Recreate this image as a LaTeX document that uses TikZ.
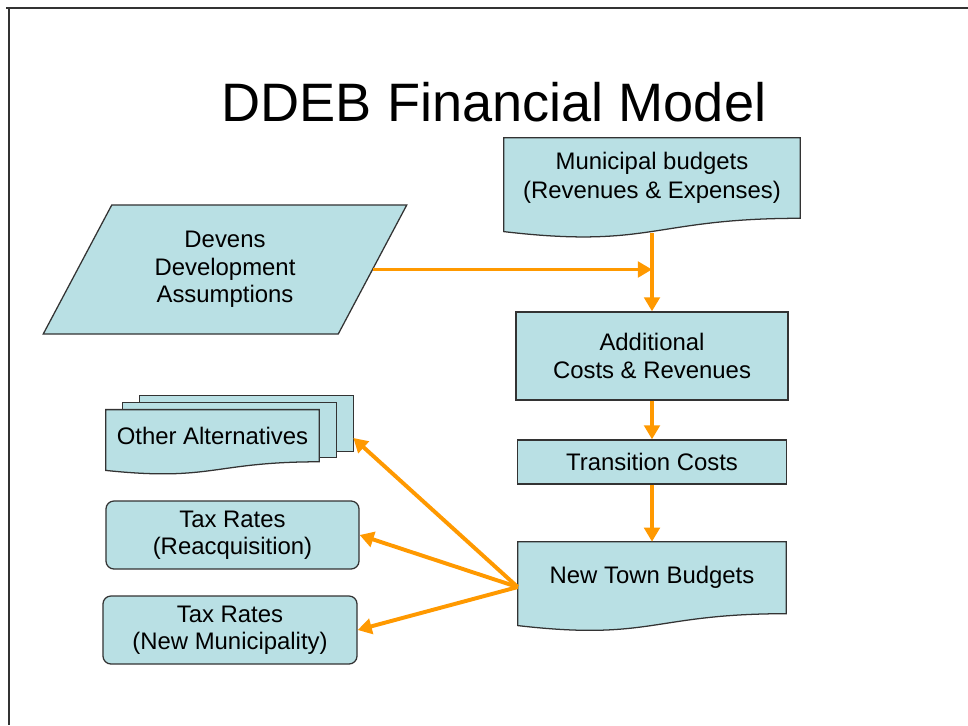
\documentclass[tikz,border=0pt]{standalone}
\usepackage{fontspec}
\setmainfont{Liberation Sans}
\usetikzlibrary{shapes}
\usetikzlibrary{positioning}
\usetikzlibrary{calc}
\usetikzlibrary{arrows.meta}
\usetikzlibrary{backgrounds}

\definecolor{boxfill}{RGB}{185,224,228}
\definecolor{flowline}{RGB}{255,153,0}
\definecolor{edgegray}{RGB}{51,51,51}

\begin{document}
\begin{tikzpicture}[
    x=0.025cm, y=-0.025cm,
    font=\fontsize{17}{19.5}\selectfont
]
\tikzset{
    shapeline/.style = {draw=edgegray, line width=0.9pt, fill=boxfill},
    procbox/.style = {rectangle, shapeline, align=center, inner sep=0pt},
    roundbox/.style = {procbox, rounded corners=0.2cm},
    docbox/.style = {rectangle, align=center, inner sep=0pt},
    databox/.style = {trapezium, shapeline, align=center, inner sep=0pt,
        trapezium left angle=60.8, trapezium right angle=119.2,
        trapezium stretches=true},
    flow/.style = {-{Triangle[length=10pt,width=11pt]}, line width=2.8pt, flowline}
}
\useasboundingbox (0,0) rectangle (968,725);
\draw[edgegray, line width=1.6pt] (6,8) -- (968,8);
\draw[edgegray, line width=1.6pt] (9,8) -- (9,725);

\node[anchor=base, font=\fontsize{38.5}{46}\selectfont] (title) at (494,121) {DDEB Financial Model};

% right column
\node[docbox, minimum width=7.4cm, minimum height=2cm, font=\fontsize{17}{21}\selectfont] (mb) at (652,178) {Municipal budgets\\(Revenues \& Expenses)};
\node[procbox, minimum width=6.8cm, minimum height=2.2cm] (add) at (652,356) {Additional\\Costs \& Revenues};
\node[procbox, minimum width=6.725cm, minimum height=1.1cm] (trans) at (652,462) {Transition Costs};
\node[docbox, minimum width=6.7cm, minimum height=1.785cm] (ntb) at (652,577.7) {New Town Budgets};

% left column
\node[databox, minimum width=9.1cm, minimum height=3.225cm] (dev) at (225,269.5) {Devens\\Development\\Assumptions};
\node[docbox, minimum width=5.325cm, minimum height=1.375cm] (alt3) at (246.5,423.5) {};
\node[docbox, minimum width=5.325cm, minimum height=1.35cm] (alt2) at (229.5,430) {};
\node[docbox, minimum width=5.325cm, minimum height=1.29cm] (alt) at (212.5,435.7) {Other Alternatives};
\node[roundbox, minimum width=6.325cm, minimum height=1.7cm] (taxr) at (232.5,535) {Tax Rates\\(Reacquisition)};
\node[roundbox, minimum width=6.35cm, minimum height=1.7cm] (taxn) at (230,630) {Tax Rates\\(New Municipality)};

% document outlines behind the text
\begin{pgfonlayer}{background}
\foreach \page in {alt3, alt2} {
    \draw[shapeline] (\page.north west) rectangle (\page.south east);
}
\foreach \doc in {mb, ntb, alt} {
    \draw[shapeline] (\doc.north west) -- (\doc.north east) -- (\doc.south east)
        .. controls (\doc.south) and ($(\doc.north)!1.381!(\doc.south)$)
        .. ($(\doc.north west)!1.165!(\doc.south west)$) -- cycle;
}
\end{pgfonlayer}

\coordinate (mbout) at ($(mb.north)!1.18!(mb.south)$);
\coordinate (join) at (dev.east -| mbout);
\coordinate (ntbout) at ($(ntb.north west)!0.63!(ntb.south west)$);
\coordinate (altin) at ($(alt3.north east)!0.76!(alt3.south east)$);

\draw[flow] (dev.east) -- (join);
\draw[flow] (mbout) -- (add);
\draw[flow] (add) -- (trans);
\draw[flow] (trans) -- (ntb);
\draw[flow] (ntbout) -- (altin);
\draw[flow] (ntbout) -- (taxr.east);
\draw[flow] (ntbout) -- (taxn.east);
\end{tikzpicture}
\end{document}
